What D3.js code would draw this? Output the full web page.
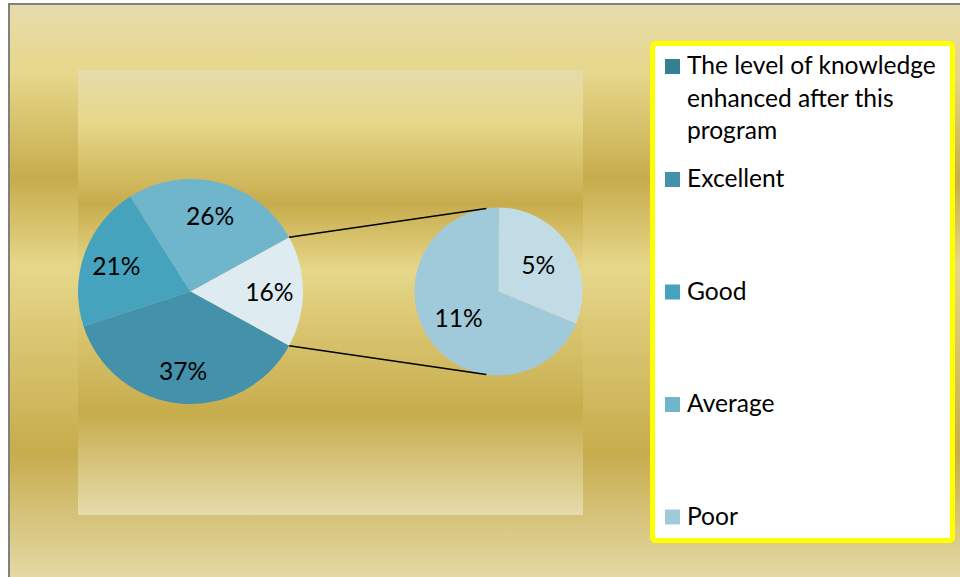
<!DOCTYPE html>
<html><head><meta charset="utf-8">
<script src="https://cdn.jsdelivr.net/npm/d3@7"></script>
<style>html,body{margin:0;padding:0;background:#fff;overflow:hidden}</style>
</head><body>
<svg id="chart" width="960" height="577"></svg>
<script>
// ---- data ----
const legendLabels = ["The level of knowledge enhanced after this program", "Excellent", "Good", "Average", "Poor"];
const legendColors = ["#357f92", "#4391aa", "#45a3be", "#6fb6cd", "#a0c9da"];
const primaryLabels = ["Other", "Excellent", "Good", "Average"];
const primaryValues = [16, 37, 21, 26];
const primaryColors = ["#deebf1", "#4391aa", "#45a3be", "#6fb6cd"];
const secondaryLabels = ["Part", "Poor"];
const secondaryValues = [5, 11];
const secondaryColors = ["#c2dce6", "#a0c9da"];
const goldStops = [[0, "#E6DCAC"], [0.12, "#E6D78A"], [0.30, "#C7AC4C"], [0.45, "#E6D78A"], [0.77, "#C7AC4C"], [1, "#E6DCAC"]];

// ---- layout ----
const FONT = "Lato, 'Open Sans', sans-serif";
const FS = 24.6;
const svg = d3.select("#chart");
const defs = svg.append("defs");
const grad = defs.append("linearGradient").attr("id", "gold")
  .attr("x1", 0).attr("y1", 0).attr("x2", 0).attr("y2", 1);
grad.selectAll("stop").data(goldStops).join("stop")
  .attr("offset", d => d[0]).attr("stop-color", d => d[1]);

// chart area
svg.append("rect").attr("x", 9).attr("y", 4).attr("width", 1000).attr("height", 582)
  .attr("fill", "url(#gold)").attr("stroke", "#808080").attr("stroke-width", 2);
// plot area
svg.append("rect").attr("x", 78).attr("y", 70).attr("width", 505).attr("height", 445)
  .attr("fill", "url(#gold)");

const total = d3.sum(primaryValues);
const otherFrac = primaryValues[0] / total;
const start = Math.PI / 2 - Math.PI * otherFrac;

const C1 = [190.5, 291.5], R1 = 112.5;
const C2 = [498.5, 291.5], R2 = 84;

const pie1 = d3.pie().sort(null).startAngle(start).endAngle(start + 2 * Math.PI);
const arcs1 = pie1(primaryValues);
const arc1 = d3.arc().innerRadius(0).outerRadius(R1);
const lab1 = d3.arc().innerRadius(R1 * 0.7).outerRadius(R1 * 0.7);

const g1 = svg.append("g").attr("transform", `translate(${C1})`);
g1.selectAll("path").data(arcs1).join("path")
  .attr("d", arc1).attr("fill", (d, i) => primaryColors[i]);
g1.selectAll("text").data(arcs1).join("text")
  .attr("transform", d => `translate(${lab1.centroid(d)})`)
  .attr("text-anchor", "middle").attr("dy", "0.4em")
  .style("font-family", FONT).style("font-size", FS + "px").attr("fill", "#000")
  .text(d => Math.round(d.value / total * 100) + "%");

const pie2 = d3.pie().sort(null).startAngle(0).endAngle(2 * Math.PI);
const arcs2 = pie2(secondaryValues);
const arc2 = d3.arc().innerRadius(0).outerRadius(R2);
const lab2 = d3.arc().innerRadius(R2 * 0.57).outerRadius(R2 * 0.57);
const g2 = svg.append("g").attr("transform", `translate(${C2})`);
g2.selectAll("path").data(arcs2).join("path")
  .attr("d", arc2).attr("fill", (d, i) => secondaryColors[i]);
g2.selectAll("text").data(arcs2).join("text")
  .attr("transform", d => `translate(${lab2.centroid(d)})`)
  .attr("text-anchor", "middle").attr("dy", "0.36em")
  .style("font-family", FONT).style("font-size", FS + "px").attr("fill", "#000")
  .text(d => Math.round(d.value / total * 100) + "%");

// connector lines (tangent from other slice edges to secondary pie)
const a0 = arcs1[0].startAngle, a1 = arcs1[0].endAngle;
function pt(c, r, a) { return [c[0] + r * Math.sin(a), c[1] - r * Math.cos(a)]; }
function tangent(P, C, r, sign) {
  const dx = P[0] - C[0], dy = P[1] - C[1];
  const d = Math.hypot(dx, dy);
  const th = Math.atan2(dy, dx), al = Math.acos(r / d);
  const t = th + sign * al;
  return [C[0] + r * Math.cos(t), C[1] + r * Math.sin(t)];
}
const P0 = pt(C1, R1, a0), P1 = pt(C1, R1, a1);
const T0 = tangent(P0, C2, R2, 1), T1 = tangent(P1, C2, R2, -1);
svg.append("line").attr("x1", P0[0]).attr("y1", P0[1]).attr("x2", T0[0]).attr("y2", T0[1])
  .attr("stroke", "#000").attr("stroke-width", 1.5);
svg.append("line").attr("x1", P1[0]).attr("y1", P1[1]).attr("x2", T1[0]).attr("y2", T1[1])
  .attr("stroke", "#000").attr("stroke-width", 1.5);

// legend
svg.append("rect").attr("x", 652.5).attr("y", 43.5).attr("width", 300).attr("height", 497)
  .attr("rx", 3).attr("fill", "#fff").attr("stroke", "#ffff00").attr("stroke-width", 5);

const legendBaselines = [74, 187, 299.5, 412, 524.5];
const lineH = 32.5;
const lg = svg.append("g");
legendLabels.forEach((lab, i) => {
  const by = legendBaselines[i];
  lg.append("rect").attr("x", 665).attr("y", by - 15).attr("width", 15).attr("height", 15)
    .attr("fill", legendColors[i]);
  const t = lg.append("text").attr("x", 687).attr("y", by)
    .style("font-family", FONT).style("font-size", FS + "px").attr("fill", "#000");
  // wrap words to max width
  const words = lab.split(" ");
  let line = [], li = 0;
  let ts = t.append("tspan").attr("x", 687).attr("y", by);
  words.forEach(w => {
    line.push(w);
    ts.text(line.join(" "));
    if (ts.node().getComputedTextLength() > 258 && line.length > 1) {
      line.pop(); ts.text(line.join(" "));
      line = [w]; li++;
      ts = t.append("tspan").attr("x", 687).attr("y", by + li * lineH).text(w);
    }
  });
});
</script>
</body></html>
